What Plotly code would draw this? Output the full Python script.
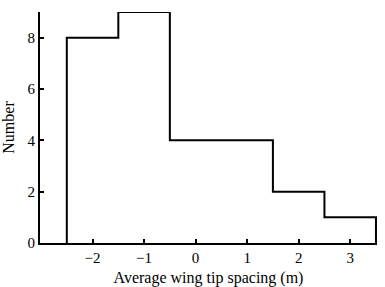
import plotly.graph_objects as go

edges = [-2.5, -1.5, -0.5, 1.5, 2.5, 3.5]
counts = [8, 9, 4, 2, 1]
xticks = [-2, -1, 0, 1, 2, 3]
yticks = [0, 2, 4, 6, 8]

xs = [edges[0]] + edges
ys = [0] + counts + [0]

fig = go.Figure()
fig.add_trace(go.Scatter(x=xs, y=ys, mode="lines", line_shape="hv",
                         line=dict(color="black", width=2), cliponaxis=False,
                         hoverinfo="skip"))

fig.update_layout(
    width=385, height=287,
    margin=dict(l=40, r=8, t=12, b=44),
    paper_bgcolor="white", plot_bgcolor="white",
    showlegend=False,
    font=dict(family="Liberation Serif", size=15, color="black"),
    xaxis=dict(range=[-3.02, 3.52], tickvals=xticks,
               ticktext=["\u22122", "\u22121", "0", "1", "2", "3"],
               ticks="inside", ticklen=4, tickwidth=1.5, tickcolor="black",
               showline=True, linecolor="black", linewidth=2,
               showgrid=False, zeroline=False, automargin=False,
               title=dict(text="Average wing tip spacing (m)", font=dict(size=16), standoff=13),
               tickfont=dict(size=15)),
    yaxis=dict(range=[0, 9], tickvals=yticks,
               ticks="inside", ticklen=4, tickwidth=1.5, tickcolor="black",
               showline=True, linecolor="black", linewidth=2,
               showgrid=False, zeroline=False, automargin=False,
               title=dict(text="Number", font=dict(size=16), standoff=9),
               tickfont=dict(size=15)),
)

fig.write_html("out.html")
